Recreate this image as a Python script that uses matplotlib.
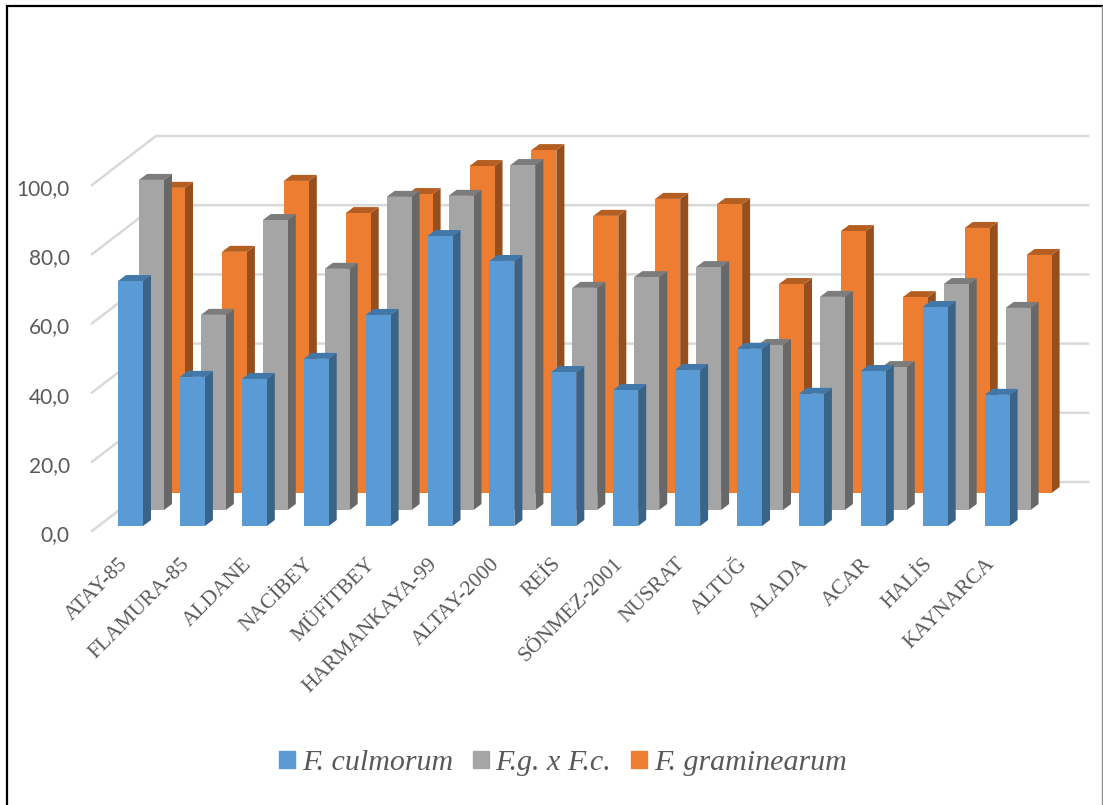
import matplotlib
matplotlib.use("Agg")
import matplotlib.pyplot as plt
from matplotlib.lines import Line2D
from matplotlib.patches import Patch
from matplotlib.transforms import ScaledTranslation

cultivars = ["ATAY-85", "FLAMURA-85", "ALDANE", "NACİBEY", "MÜFİTBEY", "HARMANKAYA-99",
             "ALTAY-2000", "REİS", "SÖNMEZ-2001", "NUSRAT", "ALTUĞ", "ALADA", "ACAR",
             "HALİS", "KAYNARCA"]
culmorum = [70.8, 43.1, 42.5, 48.3, 61.0, 83.8, 76.6, 44.5, 39.3, 45.1, 51.2, 38.2, 44.8, 63.3, 37.9]
hybrid = [95.4, 56.4, 83.8, 69.7, 90.5, 90.8, 99.7, 64.2, 67.3, 70.2, 47.7, 61.6, 41.3, 65.3, 58.4]
graminearum = [88.2, 69.7, 90.2, 80.9, 86.4, 94.5, 99.1, 80.1, 85.0, 83.5, 60.4, 75.7, 56.6, 76.6, 68.8]
y_ticks = [0, 20, 40, 60, 80, 100]

W, H = 1103, 805
# pixel scales of the fake 3d view
px_x = 61.9
px_y = 3.46
left, right, bottom, top = 92, 1024, 531, 185

fig = plt.figure(figsize=(W / 100, H / 100), dpi=100)
ax = fig.add_axes([left / W, 1 - bottom / H, (right - left) / W, (bottom - top) / H])
ax.set_xlim((left - 130.5) / px_x, (right - 130.5) / px_x)
ax.set_ylim(0, 100)
for s in ax.spines.values():
    s.set_visible(False)
ax.patch.set_alpha(0)


def dx(p):
    return p / px_x


def dy(p):
    return p / px_y


# back wall grid
x0, x1 = ax.get_xlim()
for t in y_ticks:
    ax.plot([x0, x0 + dx(64), x1 + dx(64)], [t, t + dy(49), t + dy(49)], color="#D9D9D9",
            lw=1.8, clip_on=False, zorder=1, solid_joinstyle="miter")

bar_w = dx(25)
side_x = dx(8)
side_y = dy(6)


def draw_series(values, off_x, off_y, front, side, cap, z):
    xs = [i + dx(off_x) for i in range(len(values))]
    base = dy(off_y)
    ax.bar(xs, values, width=bar_w, bottom=base, color=front, clip_on=False, zorder=z + 0.2, lw=0)
    for x, v in zip(xs, values):
        l, r = x - bar_w / 2, x + bar_w / 2
        t = base + v
        ax.fill([r, r + side_x, r + side_x, r], [base, base + side_y, t + side_y, t],
                color=side, clip_on=False, zorder=z, lw=0)
        ax.fill([l, r, r + side_x, l + side_x], [t, t, t + side_y, t + side_y],
                color=cap, clip_on=False, zorder=z + 0.1, lw=0)


draw_series(graminearum, 42, 38, "#ED7D31", "#964F1C", "#B55E22", 2)
draw_series(hybrid, 21, 21, "#A5A5A5", "#686868", "#7C7C7C", 3)
draw_series(culmorum, 0, 5, "#5B9BD5", "#3A6388", "#4178A8", 4)

ax.set_yticks(y_ticks)
ax.set_yticklabels([f"{t:.1f}".replace(".", ",") for t in y_ticks], fontname="Lato",
                   fontsize=15, color="#595959")
ax.tick_params(axis="y", length=0, pad=16)
for lab in ax.get_yticklabels():
    lab.set_verticalalignment("center")
    lab.set_transform(lab.get_transform() + ScaledTranslation(0, -4 / 100, fig.dpi_scale_trans))

ax.set_xticks(range(len(cultivars)))
ax.set_xticklabels(cultivars, rotation=45, ha="right", va="top", rotation_mode="anchor",
                   fontname="Liberation Serif", fontsize=15.5, color="#595959")
ax.tick_params(axis="x", length=0, pad=17)
for lab in ax.get_xticklabels():
    lab.set_transform(lab.get_transform() + ScaledTranslation(-12 / 100, 0, fig.dpi_scale_trans))

handles = [Patch(color="#5B9BD5"), Patch(color="#A5A5A5"), Patch(color="#ED7D31")]
fig.legend(handles, ["F. culmorum", "F.g. x F.c.", "F. graminearum"], ncol=3, frameon=False,
           loc="center", bbox_to_anchor=(563 / W, 1 - 763 / H), handlelength=0.52, handleheight=0.5,
           handletextpad=0.23, columnspacing=0.67,
           prop={"family": "Liberation Serif", "style": "italic", "size": 21.6}, labelcolor="#595959")

# chart border: top and left black, right edge grey, nothing at the bottom
fig.add_artist(Line2D([7 / W, 7 / W, 1], [0, 1 - 6 / H, 1 - 6 / H], transform=fig.transFigure,
                      color="black", lw=1.6, solid_joinstyle="miter"))
fig.add_artist(Line2D([1102 / W, 1102 / W], [0, 1 - 6 / H], transform=fig.transFigure,
                      color="#8C8C8C", lw=1.0))

fig.savefig("out.png", dpi=100)
